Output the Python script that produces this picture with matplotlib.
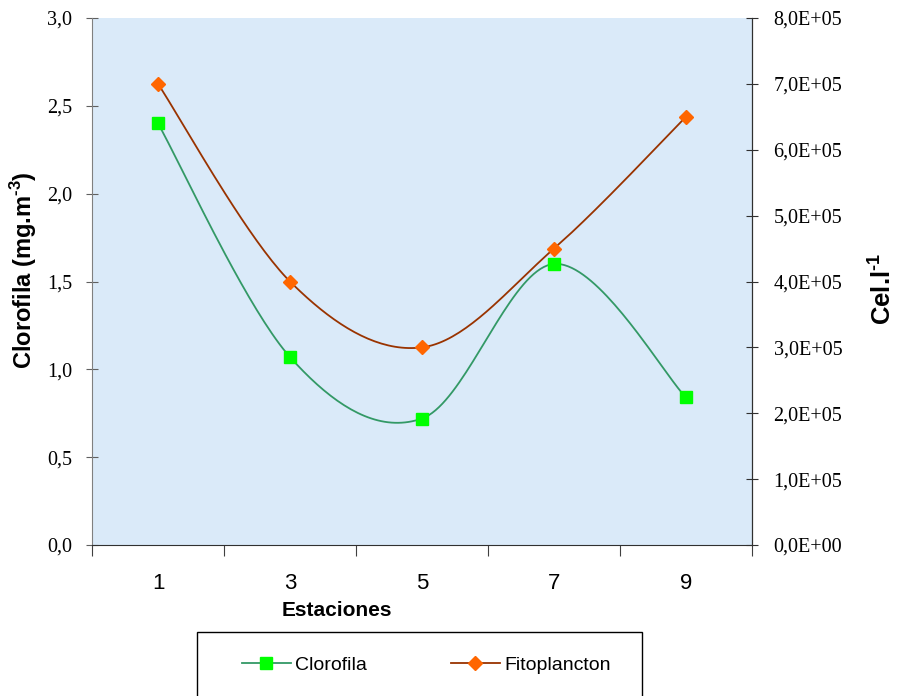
import numpy as np
import matplotlib
matplotlib.use("Agg")
import matplotlib.pyplot as plt
from matplotlib.lines import Line2D
from matplotlib.patches import Rectangle
from matplotlib.ticker import FuncFormatter

estaciones = ["1", "3", "5", "7", "9"]
clorofila = [2.40, 1.07, 0.72, 1.60, 0.84]          # mg.m-3
fitoplancton = [7.0e5, 4.0e5, 3.0e5, 4.5e5, 6.5e5]  # Cel.l-1

C_CLORO_LINE, C_CLORO_MK = "#339966", "#00ff00"
C_FITO_LINE, C_FITO_MK = "#993300", "#ff6600"
SANS = "Liberation Sans"
SERIF = "Liberation Serif"


def smooth(y, n=40):
    # excel-like smoothed line (bezier through points)
    pts = np.column_stack([np.arange(len(y)), y]).astype(float)
    P = np.vstack([pts[0], pts, pts[-1]])
    t = np.linspace(0, 1, n)[:, None]
    segs = []
    for i in range(len(pts) - 1):
        p0, p1, p2, p3 = P[i], P[i + 1], P[i + 2], P[i + 3]
        c1 = p1 + (p2 - p0) / 6
        c2 = p2 - (p3 - p1) / 6
        segs.append((1 - t) ** 3 * p1 + 3 * (1 - t) ** 2 * t * c1
                    + 3 * (1 - t) * t ** 2 * c2 + t ** 3 * p2)
    s = np.vstack(segs)
    return s[:, 0], s[:, 1]


plt.rcParams["mathtext.fontset"] = "custom"
plt.rcParams["mathtext.bf"] = "Liberation Sans:bold"
plt.rcParams["mathtext.rm"] = "Liberation Sans"

fig = plt.figure(figsize=(8.97, 6.96), dpi=100)
ax = fig.add_axes([92 / 897, 1 - 545 / 696, 660 / 897, 527 / 696])
ax.set_facecolor("#daeaf9")
ax2 = ax.twinx()

x = np.arange(len(estaciones))
sx, sy = smooth(clorofila)
ax.plot(sx, sy, color=C_CLORO_LINE, lw=1.3, zorder=3)
ax.plot(x, clorofila, "s", color=C_CLORO_MK, ms=8.5, zorder=4)

fx, fy = smooth(fitoplancton)
ax2.plot(fx, fy, color=C_FITO_LINE, lw=1.3, zorder=3)
ax2.plot(x, fitoplancton, "D", color=C_FITO_MK, ms=7.5, zorder=4)

ax.set_xlim(-0.5, len(estaciones) - 0.5)
ax.set_ylim(0, 3.0)
ax2.set_ylim(0, 8e5)
ax.set_yticks(np.arange(0, 3.01, 0.5))
ax2.set_yticks(np.arange(0, 8.01e5, 1e5))
ax.yaxis.set_major_formatter(FuncFormatter(lambda v, p: f"{v:.1f}".replace(".", ",")))
ax2.yaxis.set_major_formatter(FuncFormatter(
    lambda v, p: "0,0E+00" if v == 0 else f"{v / 1e5:.1f}E+05".replace(".", ",")))

ax.set_xticks(np.arange(-0.5, len(estaciones), 1.0))
ax.set_xticklabels([])
ax.set_xticks(x, minor=True)
ax.set_xticklabels(estaciones, minor=True, family=SANS, fontsize=16)
ax.tick_params(axis="x", which="major", direction="out", length=8, color="#404040")
ax.tick_params(axis="x", which="minor", length=0, pad=20)
ax.tick_params(axis="y", direction="inout", length=9, color="#606060", pad=10)
ax2.tick_params(axis="y", direction="inout", length=9, color="#303030", pad=11)
for lab in ax.get_yticklabels() + ax2.get_yticklabels():
    lab.set_family(SERIF)
    lab.set_fontsize(14.5)

for a in (ax, ax2):
    a.spines["top"].set_visible(False)
ax.spines["left"].set_color("#808080")
ax2.spines["left"].set_visible(False)
ax2.spines["bottom"].set_visible(False)
ax.spines["bottom"].set_color("#303030")
ax2.spines["right"].set_color("#303030")

fig.text(24 / 897, 1 - 270 / 696, "Clorofila (mg.m$^{\\mathbf{\u20103}}$)", rotation=90,
         ha="center", va="center", fontsize=17, fontweight="bold", family=SANS)
fig.text(882 / 897, 1 - 289 / 696, "Cel.l$^{\\mathbf{\u20101}}$", rotation=90,
         ha="center", va="center", fontsize=18.5, fontweight="bold", family=SANS)
fig.text(337 / 897, 1 - 611 / 696, "Estaciones", ha="center", va="center",
         fontsize=15, fontweight="bold", family=SANS)

# legend box runs off the bottom edge like the original
fig.add_artist(Rectangle((197 / 897, -0.05), 445 / 897, 64 / 696 + 0.05,
                         transform=fig.transFigure, fill=False, ec="black", lw=1))
handles = [
    Line2D([], [], color=C_CLORO_LINE, lw=1.3, marker="s", mfc=C_CLORO_MK,
           mec=C_CLORO_MK, ms=8.5),
    Line2D([], [], color=C_FITO_LINE, lw=1.3, marker="D", mfc=C_FITO_MK,
           mec=C_FITO_MK, ms=7.5),
]
fig.legend(handles, ["Clorofila", "Fitoplancton"], loc="center left",
           bbox_to_anchor=(242 / 897, 1 - 665 / 696), ncol=2, frameon=False,
           prop={"family": SANS, "size": 14}, handlelength=2.5,
           handletextpad=0.25, columnspacing=4.3, borderpad=0, borderaxespad=0)

fig.savefig("out.png", dpi=100)
